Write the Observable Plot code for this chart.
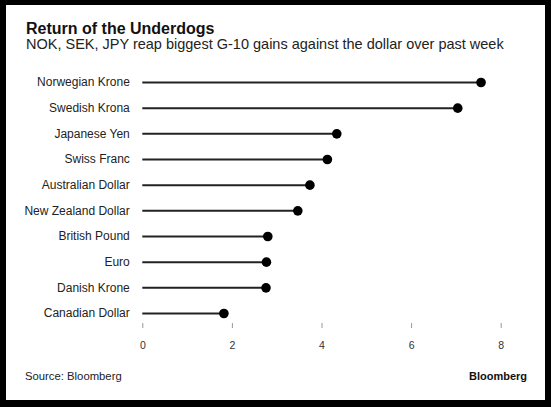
<!DOCTYPE html>
<html>
<head>
<meta charset="utf-8">
<script src="https://cdn.jsdelivr.net/npm/d3@7"></script>
<script src="https://cdn.jsdelivr.net/npm/@observablehq/plot@0.6"></script>
<style>
  html, body { margin: 0; padding: 0; background: #000; width: 551px; height: 407px; overflow: hidden; }
  #frame { position: absolute; left: 6px; top: 5px; width: 539px; height: 395px; background: #fff; font-family: "Liberation Sans", Arial, sans-serif; color: #111; }
  .txt { position: absolute; white-space: nowrap; }
  #title { left: 20px; top: 17.45px; font-size: 16px; line-height: 14px; font-weight: bold; }
  #subtitle { left: 20px; top: 32.5px; font-size: 14.5px; line-height: 13px; color: #222; }
  #source { left: 19px; top: 365.5px; font-size: 11.3px; line-height: 11px; color: #222; }
  #brand { right: 18px; top: 365.7px; font-size: 11px; line-height: 11px; font-weight: bold; color: #111; }
  #chart { position: absolute; left: 0; top: 57px; }
  #chart g[aria-label="y-axis tick label"] { font-size: 12px; fill: #222; }
  #chart g[aria-label="x-axis tick label"] { font-size: 10.5px; fill: #333; }
  #chart g[aria-label="x-axis tick"] { stroke: #999; }
</style>
</head>
<body>
<div id="frame">
  <div class="txt" id="title">Return of the Underdogs</div>
  <div class="txt" id="subtitle">NOK, SEK, JPY reap biggest G-10 gains against the dollar over past week</div>
  <div id="chart"></div>
  <div class="txt" id="source">Source: Bloomberg</div>
  <div class="txt" id="brand">Bloomberg</div>
</div>
<script>
const currencies = ["Norwegian Krone", "Swedish Krona", "Japanese Yen", "Swiss Franc", "Australian Dollar", "New Zealand Dollar", "British Pound", "Euro", "Danish Krone", "Canadian Dollar"];
const gains = [7.55, 7.03, 4.33, 4.12, 3.73, 3.46, 2.79, 2.76, 2.75, 1.81];
const xTicks = [0, 2, 4, 6, 8];

const data = currencies.map((c, i) => ({currency: c, gain: gains[i]}));

const chart = Plot.plot({
  width: 539,
  height: 291,
  marginLeft: 136.3,
  marginRight: 44.3,
  marginTop: 10,
  marginBottom: 30,
  style: {fontFamily: "'Liberation Sans', Arial, sans-serif", background: "transparent"},
  x: {domain: [0, 8]},
  y: {type: "point", domain: currencies, padding: 0.39, round: false},
  marks: [
    Plot.axisY({tickSize: 0, tickPadding: 13, label: null}),
    Plot.axisX({ticks: xTicks, tickSize: 5, tickPadding: 13, label: null}),
    Plot.ruleY(data, {y: "currency", x1: 0, x2: "gain", stroke: "#222", strokeWidth: 2}),
    Plot.dot(data, {y: "currency", x: "gain", r: 4.8, fill: "#000", stroke: "none"})
  ]
});
document.getElementById("chart").appendChild(chart);
</script>
</body>
</html>
